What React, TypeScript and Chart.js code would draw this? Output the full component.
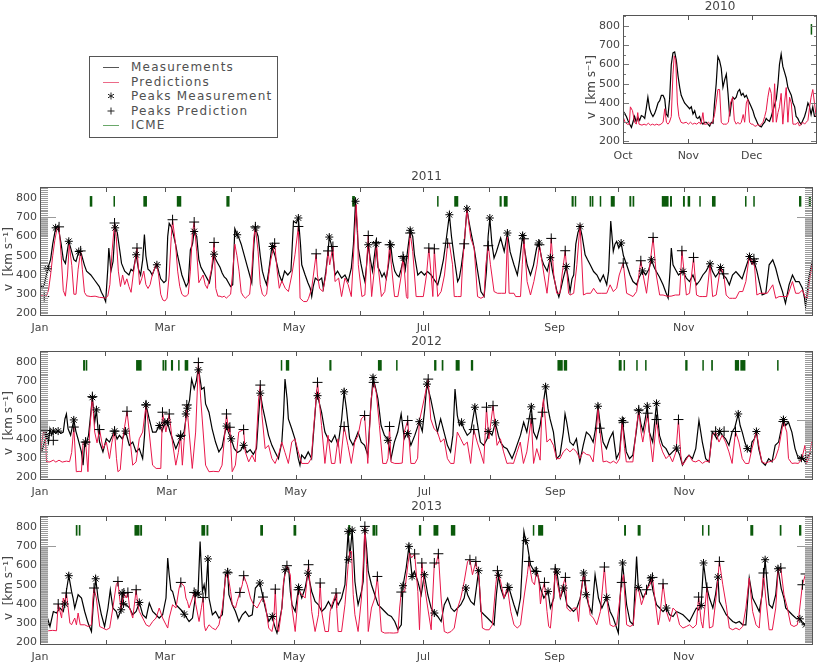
import React, { useEffect, useRef } from 'react';
import { Chart, registerables } from 'chart.js';
Chart.register(...registerables);

const FONT = '"DejaVu Sans", sans-serif';
const TEXT_COLOR = '#454545';
const AXIS_COLOR = '#555555';
const MEAS_COLOR = '#000000';
const PRED_COLOR = '#e8174a';
const ICME_COLOR = '#0b5a0b';
const Y_MIN = 187;
const Y_MAX = 857;
const ICME_LO = 755;
const ICME_HI = 810;
const Y_TICKS = [200, 300, 400, 500, 600, 700, 800];
const Y_TITLE = 'v  [km s\u207B\u00B9]    ';

// ---------- 2010 (Oct-Dec), x = days since Oct 1 ----------
const meas2010 = [[0,360],[0.8,345],[1.6,330],[2.4,308],[3.2,290],[4,273],[4.7,300],[5.5,330],[6.3,300],[7.1,325],[7.9,310],[8.7,335],[9.5,330],[10.3,320],[11.1,377],[11.8,430],[12.6,370],[13.4,345],[14.2,330],[15,345],[15.8,370],[16.6,400],[17.4,412],[18.2,440],[19,440],[19.8,420],[20.5,343],[21.3,330],[22.1,420],[22.9,600],[23.7,660],[24.5,665],[25.3,620],[26.1,540],[26.9,480],[27.6,440],[28.4,420],[29.2,400],[30,390],[31.6,370],[32.4,380],[33.2,343],[34,360],[34.8,325],[35.5,320],[36.3,330],[37.1,300],[37.9,290],[38.7,300],[39.5,300],[40.3,290],[41.1,280],[41.9,300],[42.7,295],[43.4,400],[44.2,500],[45,640],[45.8,620],[46.6,580],[47.4,482],[48.2,520],[49,550],[49.8,450],[50.6,330],[51.4,400],[52.1,430],[52.9,420],[53.7,430],[54.5,460],[55.3,470],[56.1,440],[56.9,450],[57.7,430],[58.5,440],[59.2,420],[60,400],[60.8,380],[61.6,360],[62.4,330],[63.2,310],[64,290],[64.8,280],[65.6,275],[66.4,290],[67.2,300],[67.9,320],[68.7,310],[69.5,305],[70.3,330],[71.1,360],[71.9,390],[72.7,420],[73.5,500],[74.2,600],[75,654],[75.8,590],[76.6,560],[77.4,530],[78.2,480],[79,460],[79.8,440],[80.6,400],[81.4,380],[82.1,330],[82.9,320],[83.7,300],[84.5,290],[85.3,310],[86.1,330],[86.9,360],[87.7,400],[88.5,380],[89.2,340],[90,380],[90.8,330],[91.6,330]];
const pred2010 = [[0,330],[1,300],[2,290],[3,290],[3.5,380],[4.5,360],[5.5,300],[6.3,290],[7,350],[7.6,290],[9,285],[10,290],[11,285],[12,295],[13,285],[14,290],[15,285],[16,290],[17,285],[18,290],[19,300],[19.8,370],[20.6,300],[21.3,290],[22,300],[22.9,330],[23.7,550],[24.3,645],[25,620],[25.8,400],[26.5,330],[27.5,300],[28.5,295],[30,300],[31,290],[32,300],[33,290],[34,295],[35,290],[36,300],[37,290],[37.9,350],[38.5,290],[39.5,290],[40.5,300],[41.5,290],[42.5,300],[43.4,340],[44.2,400],[45,470],[45.8,470],[46.6,300],[47.4,290],[48.2,290],[49,290],[50,300],[51,400],[52,430],[52.8,310],[53.7,290],[54.5,300],[55.3,290],[56.1,300],[57,340],[57.7,300],[58.5,400],[59.2,420],[60,300],[60.8,290],[61.6,290],[62.4,280],[63.2,280],[64,290],[64.8,280],[65.6,290],[66.4,300],[67.2,330],[67.9,360],[68.7,430],[69.5,480],[70.3,450],[71.1,300],[71.9,500],[72.7,300],[73.5,350],[74.2,380],[75,450],[75.8,290],[76.6,400],[77.4,480],[78.2,300],[79,430],[79.8,400],[80.6,290],[81.4,290],[82.1,290],[82.9,300],[83.7,280],[84.5,290],[85.3,300],[86.1,290],[86.9,300],[87.7,310],[88.5,380],[89.2,430],[90,470],[90.8,400],[91.6,330]];
const icme2010 = [[89,89.6]];

// ---------- 2011, x = day of year ----------
const meas2011 = [[0,360],[1,330],[2,350],[3,400],[3.6,432],[5,480],[6,560],[7.4,645],[8.5,655],[10,560],[11,480],[12,460],[13.6,575],[15,520],[16,480],[17,470],[18.3,522],[19.5,510],[21,450],[22,420],[24,400],[26,370],[28,340],[29,310],[30,290],[31,262],[32,430],[32.5,540],[33.5,420],[34.5,470],[35.5,645],[36.5,620],[37.5,540],[38.5,460],[40,420],[42,400],[43,430],[44,420],[45.4,505],[46.5,430],[47.5,400],[48.5,480],[49.3,610],[50,500],[51,430],[52,420],[53,400],[54,430],[55.2,453],[56,420],[57,380],[58.5,360],[59.5,370],[60.3,600],[61,668],[62,650],[63,610],[64,560],[65,500],[66,450],[67,400],[68,370],[69,340],[70,360],[71,530],[72,560],[72.8,626],[74,600],[75,480],[76,440],[77,420],[78,400],[79,380],[80,360],[81,420],[82.2,508],[83,480],[84,460],[85,440],[86,410],[87,390],[88,380],[89,360],[90,340],[91,350],[92,640],[93.1,609],[94,590],[95,560],[96,520],[97,480],[98,440],[99,400],[100,360],[101,560],[101.7,644],[103,600],[104,500],[105,420],[106,380],[107,350],[108,420],[109.5,548],[111,500],[112,450],[113,400],[114.2,366],[115.5,420],[117,400],[118.5,420],[119.7,680],[121,670],[122,696],[123,560],[123.6,453],[125.2,400],[126.5,360],[127.6,331],[128.3,288],[129,340],[130,384],[131.5,370],[133,384],[133.8,331],[135,420],[136,520],[136.6,597],[137.5,560],[138.5,480],[139.3,400],[140.5,420],[142.4,384],[144,400],[145.5,366],[147,435],[148,560],[149,783],[150.3,540],[151.5,460],[152.6,400],[153.4,366],[154.2,450],[155,557],[156,480],[157,420],[158.6,562],[159.6,440],[160.5,420],[161.5,390],[162.5,410],[163.5,380],[164.5,450],[165.6,557],[166.5,470],[167.5,420],[168.5,400],[169.5,390],[170.5,430],[171.7,488],[172.5,430],[173.5,520],[174.8,632],[176,600],[176.8,505],[178.4,400],[180,418],[181.5,400],[183,418],[184.7,400],[186.2,375],[187.8,349],[189,400],[190.5,480],[192,600],[193.3,713],[194.3,600],[195.6,488],[197.2,366],[198,384],[199,450],[200.3,560],[201.6,743],[202.5,680],[203.4,626],[205,540],[206.5,430],[208.2,314],[209.7,288],[210.8,420],[211.6,600],[212.4,696],[213.4,560],[214.4,488],[215.5,520],[217.5,592],[219.2,522],[220.7,618],[222,520],[223.8,453],[225.4,400],[226.5,480],[227.9,605],[229,520],[230,453],[231.6,400],[233,450],[234.5,540],[235.5,566],[237,480],[238,450],[239.5,420],[241,490],[242,420],[243,370],[244,320],[245,285],[246,330],[247,380],[248.5,444],[249.5,380],[250.3,314],[251.2,380],[252,400],[253,560],[254,620],[255,652],[256,600],[257.4,505],[258.5,480],[259.8,453],[261.4,418],[263,400],[264.5,366],[266,400],[267.6,349],[268.5,420],[269.5,680],[270.7,522],[271.5,560],[272.3,574],[273.3,540],[274.4,566],[275.5,500],[277,453],[278.6,400],[280,366],[281.7,349],[283,390],[284.5,421],[286,400],[287.5,430],[288.7,479],[290,440],[291,418],[292.5,390],[294.2,349],[295.5,310],[296.6,280],[297.5,420],[298.1,540],[298.9,453],[300,430],[301.5,400],[302.5,410],[303.6,418],[305.2,384],[306.7,366],[308.3,400],[310,349],[311.5,370],[313,400],[314.5,420],[316.4,458],[317.5,420],[319,390],[320.3,410],[321.3,439],[322.5,400],[324,384],[325.5,349],[327,400],[328.6,418],[330,400],[331.5,380],[333,430],[335,496],[336,460],[337.2,470],[338.5,420],[339.6,366],[341,297],[342.7,305],[343.5,380],[344.3,453],[346,479],[347.4,435],[349,366],[350.6,314],[352,253],[353.7,349],[355.3,400],[356.8,366],[358.4,366],[360,331],[361,280],[361.5,236],[362.2,300],[363,384],[364.6,470],[365,460]];
const pred2011 = [[0,290],[1,292],[2,288],[3,292],[4,320],[5,400],[6,500],[7,580],[8,640],[9,650],[10,500],[11,320],[12,290],[13,400],[13.8,560],[15,450],[16,300],[17,300],[18,430],[19.2,525],[20,430],[21,310],[22,292],[24,288],[26,290],[28,284],[30,282],[31,280],[32,290],[33,350],[34,520],[35.2,670],[36,600],[37,420],[38,340],[39,400],[40,350],[41,380],[42,340],[43,310],[44,400],[45.8,540],[46.5,430],[47,350],[48,380],[49,420],[50,350],[51,330],[52,350],[53,400],[54,430],[55,460],[56,400],[57,300],[58,270],[59,265],[60,280],[61,400],[62,600],[62.6,687],[64,560],[65,420],[66,340],[67,300],[68,290],[69,290],[70,300],[71,420],[72,620],[72.8,675],[74,520],[75,360],[76,380],[77,400],[78,350],[79,330],[80,380],[81,430],[82.2,569],[83,330],[84,290],[85,290],[86,285],[87,290],[88,280],[89,290],[90,300],[91,420],[92,560],[93,500],[94,420],[95,310],[96,290],[97,280],[98,290],[99,300],[100,420],[101,600],[101.7,650],[103,520],[104,350],[105,300],[106,290],[107,300],[108,400],[109,480],[110.8,565],[112,420],[113,331],[114.2,370],[115.8,331],[117.3,314],[118.9,400],[120.4,505],[122,652],[122.8,279],[124.5,262],[126,262],[126.8,279],[128.3,331],[130.4,510],[131,400],[132,331],[133.5,314],[135,400],[136,525],[136.8,453],[138.3,548],[139.3,366],[141,384],[142.4,288],[144,384],[145.5,350],[147,288],[147.8,453],[149.3,765],[150,626],[150.3,453],[152,288],[153.4,296],[155,605],[155.8,453],[156.6,288],[158.1,453],[158.9,569],[159.6,453],[161.2,288],[162.8,314],[164.3,453],[165.1,557],[165.9,453],[167.4,288],[169,288],[170.6,400],[171.4,496],[172.2,400],[173,288],[173.4,279],[173.7,453],[174.8,618],[176,522],[177.6,288],[179,288],[181,288],[182.5,400],[183.6,540],[184.7,400],[185.5,288],[186.2,536],[187.8,288],[189.4,314],[191,400],[192.5,565],[193.3,565],[194.8,453],[195.6,288],[197.2,288],[198.8,288],[199.5,453],[200.3,562],[201.6,743],[203.4,592],[205,540],[206.6,288],[208.2,279],[209.7,288],[210.5,453],[211.7,552],[212.7,453],[214.4,314],[216,305],[218,305],[219.8,305],[220.7,600],[221.5,305],[223.8,305],[224.6,288],[226.9,288],[227.7,453],[228.5,588],[230,366],[231.6,296],[233.2,366],[234.7,453],[235.8,557],[238,400],[239.4,305],[240.5,420],[241.4,590],[242.6,400],[244,305],[245.5,305],[246.5,400],[248,526],[249.6,305],[250.3,296],[252,305],[253.5,453],[255,661],[256.6,296],[258.2,305],[260,305],[261.4,331],[263,305],[265,305],[267.6,305],[269.2,349],[270.7,314],[272.3,331],[273.5,400],[275.4,462],[277,305],[278.6,296],[280,288],[281.7,314],[283.7,474],[284.8,400],[286.4,305],[288,453],[289.5,595],[291,400],[292.6,296],[294.2,296],[296,290],[298,290],[300,296],[302,296],[303.1,526],[304.3,400],[305.2,296],[306.7,305],[308.6,491],[310,296],[311.5,288],[313,288],[314.8,288],[316.4,458],[317.6,288],[319.3,296],[321.3,439],[322.8,406],[324,296],[325.5,279],[327,279],[328.6,279],[330.2,314],[331.8,314],[333.3,366],[335,505],[336.5,453],[337.1,484],[338.5,296],[340,305],[341.8,305],[343.4,305],[346,349],[347.4,279],[349,288],[351.3,288],[352.9,288],[355.3,366],[356.8,305],[358.4,305],[360,322],[361.5,279],[362.3,279],[363.5,380],[364.6,453],[365,460]];
const starsM2011 = [[3.6,432],[7.4,645],[13.6,575],[18.3,522],[35.5,645],[45.4,505],[55.2,453],[72.8,626],[82.2,508],[93.1,609],[101.7,644],[109.8,548],[122,696],[136.6,597],[149,783],[155,557],[158.6,562],[165.6,557],[171.7,488],[174.8,632],[193.3,713],[201.6,743],[212.4,696],[220.7,618],[227.9,605],[235.5,566],[241,490],[248.5,444],[255,652],[274.4,566],[284.5,421],[288.7,479],[303.6,418],[316.4,458],[321.3,439],[335,496],[337.2,470]];
const plusP2011 = [[2,288],[9,650],[19.2,525],[35.2,670],[45.8,540],[62.6,687],[72.8,675],[82.2,569],[101.7,650],[110.8,565],[122,652],[130.4,510],[136,525],[138.3,548],[155,605],[158.9,569],[165.1,557],[171.4,496],[174.8,618],[183.6,540],[186.2,536],[192.5,565],[200.3,562],[211.7,552],[228.5,588],[235.8,557],[241.4,590],[248,526],[275.4,462],[283.7,474],[289.5,595],[303.1,526],[308.6,491],[322.8,406],[337.1,484]];
const icme2011 = [[23.5,24.7],[34.7,35.4],[48.8,50.5],[64.6,66.7],[88,89.5],[147.4,148.7],[187.5,188.2],[195.6,197.5],[217,218],[219,220.8],[251,252],[252.5,253.2],[259.5,260.3],[260.6,261.3],[264.3,264.7],[269.5,271.4],[278.3,279.2],[279.8,280.6],[293.6,296.8],[297.5,298.4],[303.6,304.5],[305.8,307],[311.3,311.7],[317.3,319],[332.9,333.3],[336.8,337.4],[358.4,359.5],[363,364]];

// ---------- 2012 ----------
const meas2012 = [[0,358],[1,340],[2,380],[3.1,419],[4,380],[4.7,453],[5.5,420],[6.3,441],[7.5,430],[8.6,441],[10,430],[11,436],[11.8,504],[12.5,530],[13.3,453],[14.5,420],[16,499],[17,440],[18,401],[19.6,333],[20.4,264],[21.2,384],[22,380],[23,420],[24.8,616],[25.9,487],[26.7,551],[27.5,450],[28.2,384],[29.8,333],[31.4,401],[32.9,384],[34,410],[35.3,441],[36.5,400],[37.6,419],[39,400],[40.5,441],[41.5,400],[42.3,367],[43.9,384],[45.5,333],[47,350],[48.6,298],[49.5,420],[50.2,577],[51.7,504],[53.3,436],[54.9,436],[56.5,470],[57.8,440],[59.1,487],[60.4,487],[61.5,440],[62.7,401],[64.3,350],[65.5,380],[66.6,413],[68.2,436],[69.8,560],[70.8,600],[71.8,711],[73,660],[74,700],[75,770],[76.5,659],[77.7,668],[78.4,582],[80,539],[81.5,453],[83.1,384],[84.7,333],[86.2,358],[87.3,420],[88.3,467],[89.4,430],[90.5,401],[92,350],[93.5,330],[95,340],[96.4,367],[98,330],[99.5,345],[101,320],[102.5,350],[103.5,520],[104.3,638],[105.5,560],[106.6,504],[108.2,419],[109.8,367],[111.3,333],[112.9,298],[114.5,384],[115.3,522],[116,711],[117,608],[117.6,504],[119.2,453],[120.7,401],[122.3,298],[123.1,264],[123.9,316],[125.4,298],[127,333],[128.6,298],[130,500],[131,642],[131.4,625],[133.3,539],[134.9,436],[136.4,401],[138,384],[139.6,419],[141.1,367],[142.8,500],[144,645],[145.1,556],[146.6,401],[148.2,367],[150.6,436],[152.1,384],[153.7,367],[155.2,316],[156.5,550],[157.7,719],[159,660],[160,608],[161.5,470],[163.1,419],[164.7,401],[166.2,298],[167.8,384],[169.4,436],[171,530],[172.5,401],[174.1,436],[175.6,367],[177.5,420],[179.6,490],[181,440],[182.2,560],[183.2,685],[185,608],[186.6,522],[188.2,436],[189.7,504],[191.3,436],[192.9,367],[194.4,333],[195.5,420],[196.5,659],[197.6,522],[198.6,470],[199.6,487],[200.7,453],[202.3,419],[203.9,436],[205.9,565],[207,487],[208.5,384],[210.1,367],[211.7,401],[212.5,439],[214,420],[215.6,484],[217,420],[218,384],[219.5,360],[221.1,350],[222.5,320],[223.5,298],[225,340],[225.8,367],[227.5,420],[229,487],[230.5,436],[231.5,500],[232.6,567],[233.7,436],[235.2,401],[236.8,470],[238,560],[239.4,671],[240.5,560],[241.5,504],[243.1,436],[244.6,298],[246.2,316],[247.8,436],[248.6,530],[249.4,487],[250.9,384],[252.5,367],[254,401],[255.6,281],[257.2,367],[258.7,436],[260.3,419],[261.9,384],[263,450],[264.2,570],[265.2,480],[266.6,384],[268.2,350],[269.7,401],[271.3,436],[272.9,298],[274.4,333],[275.7,496],[276.6,420],[277.6,333],[279.1,298],[280.7,316],[282.3,436],[283.5,547],[284.5,480],[285.5,440],[286.5,500],[287.5,570],[288.5,436],[290.1,384],[291.9,585],[293.3,419],[294.8,367],[296.4,350],[298,316],[299.5,333],[301.4,353],[302.8,320],[304.2,264],[305.8,298],[307.3,316],[308.9,298],[310.5,350],[312,496],[313.6,384],[315.2,298],[316.8,281],[318.3,436],[319.5,420],[320.5,400],[321.8,439],[323,420],[324.6,401],[326.2,367],[327.7,436],[329,460],[330.6,530],[331.5,470],[332.5,436],[333.8,380],[334.9,350],[336.4,333],[337.1,384],[338.2,400],[339.2,439],[340.3,350],[341.8,281],[343.4,264],[345,298],[346.6,281],[348.1,367],[349.7,384],[351.3,470],[352,501],[353,470],[354.4,487],[356,436],[357.5,350],[359.1,298],[360.7,307],[362.2,281],[363.8,316],[365.4,333],[366,340]];
const pred2012 = [[0,315],[1.6,436],[2.4,444],[3.1,281],[4.7,281],[6.3,290],[7.5,280],[9,290],[10.5,280],[12.5,285],[14,282],[15,330],[16,462],[17.2,230],[18.5,232],[19.6,230],[20.4,384],[21.6,384],[22.7,230],[23.5,436],[24.8,620],[25.9,436],[27,380],[28.2,449],[29.8,350],[31.4,384],[32.9,298],[34,380],[35.3,441],[36.2,300],[36.9,230],[38,240],[39.2,401],[41.2,544],[42.3,436],[43.9,264],[45.5,281],[47,401],[48.6,436],[50.2,577],[51.7,436],[53.3,264],[55,247],[57.2,247],[58,539],[59.6,436],[61.2,530],[62.7,384],[64.3,264],[65.5,330],[66.6,419],[67.4,264],[69.5,577],[70.6,436],[72.1,247],[73.7,436],[75,797],[76.1,608],[76.8,504],[78.4,264],[80,230],[82,232],[84.7,230],[86.2,264],[88.3,530],[89.4,436],[89.9,461],[91,230],[92.5,264],[94.1,436],[96.4,449],[97.2,333],[98.8,281],[100.4,316],[101.9,281],[103.5,608],[104.3,680],[105.1,522],[106.6,350],[108.2,367],[109.8,298],[111.3,273],[112.9,316],[114.5,384],[116,330],[117.6,273],[119.2,384],[120.7,401],[122.3,333],[123.9,273],[125.5,273],[127,273],[128.5,300],[129.4,436],[131.4,694],[133.3,470],[134.9,273],[136.4,419],[138,273],[139.6,273],[141.1,401],[142.2,273],[144,465],[145.8,367],[147.4,273],[149,384],[150.6,419],[152.1,504],[153.7,522],[155.2,273],[156.8,608],[158,694],[159.2,642],[160.7,470],[162.3,273],[164,273],[164.8,300],[165.5,465],[166.2,280],[168,273],[170,273],[171.5,275],[172.5,436],[174.1,496],[175.6,273],[177.5,273],[178.8,300],[179.6,491],[181.9,608],[183.8,711],[185,504],[186.6,453],[188.2,436],[189.7,384],[191.3,401],[192.9,298],[194.4,273],[196,273],[197.6,436],[199.2,401],[200.7,367],[202.3,384],[203.9,273],[205.4,449],[207,384],[208.5,333],[210.1,273],[211.4,565],[212.5,401],[214.5,573],[216.4,367],[218,401],[219.5,333],[221.1,273],[222.5,275],[224.2,273],[225.8,330],[227.4,384],[228.9,273],[230.5,333],[232.6,505],[233.7,273],[235.2,350],[236.8,290],[237.6,539],[238.4,608],[239.2,504],[240,384],[241.5,401],[243.1,367],[244.6,298],[246.2,298],[247.8,333],[249.4,350],[250.9,333],[252.5,350],[254,333],[255.6,298],[257.2,333],[258.7,320],[260.3,316],[261.9,281],[263.4,436],[264.2,556],[265,456],[266.6,281],[268.2,285],[270,275],[271.5,285],[273,273],[274.4,298],[275.7,487],[276.8,350],[277.6,281],[279.1,281],[280.7,281],[282.3,453],[283.5,551],[284.6,436],[285.4,384],[287.7,534],[288.5,436],[290.1,281],[291.9,501],[293.3,384],[294.8,333],[296.4,298],[298,316],[299.5,281],[301.1,333],[302.3,501],[303.4,316],[304.2,264],[305.8,290],[307.3,316],[309,285],[310.5,281],[312,290],[313.6,273],[315.2,285],[316.8,281],[318.3,419],[319.9,436],[321.5,384],[323,419],[324.6,384],[326.2,333],[327.7,273],[329.3,439],[330.9,384],[332.5,298],[334,273],[335.6,273],[337.1,350],[339.2,439],[340.3,367],[341.8,281],[343.4,273],[345,281],[346.6,285],[348.1,298],[349.7,350],[352,491],[353.6,436],[354.4,298],[356,273],[357.5,275],[359.1,273],[360.7,298],[362.2,367],[363,273],[364,300],[365.4,384],[366,380]];
const starsM2012 = [[3.1,419],[6.3,441],[8.6,441],[16,499],[21.6,384],[24.8,616],[26.7,551],[35.3,441],[40.5,441],[50.2,577],[56.5,470],[59.1,487],[60.4,487],[66.6,413],[69,530],[69.8,560],[75,759],[88.3,467],[90.5,401],[96.4,367],[104.3,638],[131.4,625],[144,645],[157.7,719],[164.7,393],[174.1,428],[179.6,490],[183.2,685],[199.6,487],[205.9,565],[212.2,439],[215.6,484],[232.6,567],[239.4,671],[264.2,570],[275.7,496],[283.5,547],[287.5,570],[291.9,585],[301.4,353],[321.8,439],[330.6,530],[334.9,350],[339.2,439],[352,501],[360.5,300]];
const plusP2012 = [[2.4,444],[6.3,393],[16,462],[21.6,384],[24.8,620],[28.2,449],[35.3,441],[41.2,544],[50.2,577],[58,539],[61.2,530],[66.6,419],[69.5,577],[75,797],[88.3,530],[89.9,461],[96.4,449],[104.3,680],[131.4,694],[144,465],[153.7,522],[158,694],[165.5,465],[174.1,496],[183.8,711],[205.4,449],[211.4,565],[214.5,573],[232.6,505],[238,539],[265,456],[276.3,487],[283.5,551],[287.7,534],[291.9,501],[302.3,501],[319.9,440],[323.9,440],[329.3,439],[352,491],[362.5,298]];
const icme2012 = [[20.4,21.3],[21.6,22.4],[45.5,48.1],[58,58.5],[59,59.9],[62,63],[65.4,65.9],[68.5,70.2],[114,114.5],[116.4,118],[137,138],[160,161.8],[168.6,169],[186.6,187.7],[190.2,191],[196.8,198.7],[204,205.1],[245,247.5],[248,249.6],[274,275.4],[276.3,277],[282.3,283],[286.5,287],[305.5,306.6],[313.6,314],[317.8,318.6],[329,331],[331.6,334],[349,349.4]];

// ---------- 2013 ----------
const meas2013 = [[0,327],[0.8,292],[1.6,301],[3.1,344],[4.7,283],[6.3,361],[7.8,353],[9.4,379],[11,361],[11.7,400],[12.5,470],[13.6,547],[14.9,465],[15.6,431],[16.4,379],[18,448],[19.6,431],[21.1,361],[22.7,301],[24.3,257],[25.3,420],[26.3,531],[27.4,431],[29,344],[30.5,283],[32.1,379],[33.2,474],[34.4,379],[36,361],[36.8,327],[38.3,370],[38.8,457],[39.4,401],[40.7,396],[42.3,379],[43.8,344],[45.4,361],[46.9,408],[48.5,344],[50.1,327],[51.6,405],[53.2,361],[54.8,344],[56.3,327],[57.9,344],[59.5,431],[60.3,639],[61,552],[61.8,474],[62.6,465],[64.2,396],[65.7,379],[67.3,361],[68.1,347],[70.4,309],[72,327],[73.6,457],[74.6,451],[75.6,725],[76.7,465],[77.5,500],[78.2,448],[79.3,634],[79.8,431],[81.4,344],[82.9,361],[84.5,327],[86.1,344],[87.6,552],[88.6,566],[89.2,448],[90.8,396],[92.3,361],[93.9,309],[95.5,344],[97,361],[98.6,335],[100.2,344],[101.7,483],[103.8,509],[105,450],[106.4,379],[108,309],[109.5,335],[111.1,275],[111.9,249],[112.7,292],[114.2,379],[115,500],[115.8,578],[117.4,587],[118.2,465],[119,396],[120.5,361],[122.1,486],[123.6,431],[125.2,483],[126.5,560],[128.3,465],[129.9,413],[131.5,396],[133,361],[134.6,379],[136.2,413],[137.8,379],[139.3,431],[140.8,396],[142.4,431],[144,500],[145.5,777],[146.3,640],[147.4,783],[147.9,691],[148.7,517],[149.5,448],[150.2,396],[151.8,465],[152.6,517],[153.4,781],[154.2,691],[155,569],[156.5,500],[158.1,448],[159.6,396],[161.2,379],[162.8,361],[164.3,344],[165.9,335],[167.5,309],[169,266],[170.6,292],[171.4,495],[172.9,587],[174.2,699],[175.7,543],[176.8,569],[178.4,517],[180,448],[181.5,552],[183.1,448],[184.7,379],[186.2,353],[187.8,335],[189.4,309],[190.9,396],[192.5,431],[194.1,379],[195.6,361],[197.2,379],[198.7,396],[200.3,431],[201.1,483],[201.9,448],[203.4,413],[205,396],[206,480],[207.1,573],[208.2,361],[209.7,344],[211.3,327],[212.9,309],[214.4,292],[215.5,450],[216.5,549],[217.5,483],[219.1,431],[220.3,460],[221.4,486],[222.6,440],[223.8,396],[225.4,344],[226.9,431],[228.5,777],[229.3,729],[230.1,708],[231.6,604],[233.2,573],[234.7,569],[236.3,483],[237.9,431],[239.9,465],[241,379],[242.6,431],[243.3,587],[244.1,566],[245.7,431],[247.3,483],[248.8,396],[250.4,379],[251.9,361],[253.5,379],[255.1,431],[256.7,561],[257.9,448],[259,396],[260.6,353],[262.1,552],[263.7,431],[265.3,379],[266,396],[267.6,434],[269.2,361],[270.7,327],[272.3,275],[273.1,249],[273.9,431],[275.1,613],[277,396],[278.6,309],[280.1,292],[281.7,647],[282.5,486],[283.5,470],[284.8,431],[286.5,470],[288.4,535],[289.5,465],[291.1,396],[292.6,379],[294.2,360],[295.8,379],[297.3,344],[298.9,335],[300.5,361],[302,353],[303.6,344],[305.2,327],[306.7,309],[308.3,344],[309.9,379],[311,370],[312.2,392],[313.3,613],[314.6,500],[316.1,431],[317.7,379],[319,450],[320.1,540],[320.8,413],[322.4,379],[324,344],[325.5,327],[327.1,309],[328.6,301],[330.2,309],[331.8,292],[333.3,292],[334.9,535],[336.5,431],[338.1,396],[339.6,361],[341,450],[342.4,630],[343.5,483],[344.3,396],[345.8,379],[347.4,448],[348.5,583],[350,480],[351.3,431],[352.1,379],[353.7,361],[355.2,344],[356.8,327],[358.8,323],[359.9,301],[361.5,292],[362.3,379],[363,370],[364.6,361],[365,355]];
const pred2013 = [[0,353],[0.8,261],[2,265],[4,261],[6,263],[7.8,261],[8.6,400],[10.2,327],[11,431],[11.7,400],[12.5,457],[13.3,379],[14.1,301],[14.9,292],[16.4,327],[17.2,292],[18,353],[19,292],[20.3,292],[21.1,292],[22.7,283],[24.3,292],[25,431],[25.5,483],[26.6,431],[28.2,283],[29.7,275],[31.3,266],[32.9,275],[34.4,379],[36,500],[36.8,517],[37.6,431],[38.3,370],[39.6,457],[40.7,431],[41.5,460],[42.3,379],[43.8,327],[45.4,474],[46.2,396],[46.9,361],[48.5,327],[50.1,292],[51.6,283],[53.2,309],[54.8,327],[56.3,379],[57.9,327],[59.5,292],[60.3,275],[61,327],[62.6,396],[64.2,379],[65.7,483],[66.5,512],[68.1,491],[68.9,431],[69.6,413],[70.4,379],[72,431],[72.8,460],[73.6,396],[75.1,309],[76.2,380],[77,434],[77.6,290],[78.2,261],[79.8,292],[81.4,275],[82.9,266],[84.5,292],[86.1,379],[87.6,535],[88.6,562],[90,465],[90.8,396],[92.3,379],[93.1,413],[94.4,460],[95.5,500],[96.2,547],[97.8,500],[99.4,431],[100.9,396],[102.5,379],[104.1,413],[105.3,436],[106.4,396],[108,275],[109.5,257],[110.3,300],[111.1,477],[111.9,275],[112.7,257],[114.2,379],[115,517],[116.6,599],[118.2,552],[119,379],[120.5,257],[122.1,474],[123.6,448],[125.2,431],[126.8,604],[127.5,500],[128.3,361],[129.9,257],[131.5,344],[132.3,509],[133,361],[134.6,257],[136.2,257],[137,361],[137.8,396],[139.8,457],[140.1,379],[140.8,257],[142.4,257],[144,396],[145.5,604],[146.3,673],[147.1,673],[147.9,448],[148.7,344],[150.2,257],[151.8,431],[152.6,604],[153.4,803],[154.2,604],[155,257],[156.5,379],[158.1,431],[159.3,543],[160.4,379],[161.2,257],[162.8,249],[165,250],[167,249],[169,251],[169.8,379],[170.6,462],[172.2,465],[173.7,604],[174.5,665],[175.5,640],[176.9,660],[178.4,465],[179.2,266],[180.3,613],[181.5,500],[183.1,379],[184.7,266],[186.2,613],[187,604],[188.1,661],[189.4,431],[190.9,257],[192.5,249],[194.1,257],[195.6,275],[197.2,379],[198.7,431],[200.3,517],[201.9,621],[203,630],[204.2,552],[205.8,621],[207.4,517],[208.9,275],[210.5,266],[212.1,266],[213.6,292],[215.2,500],[216,573],[217.5,517],[219.1,431],[220.7,486],[222.3,361],[223.8,292],[225.4,275],[226.9,292],[228.5,431],[230.1,552],[230.8,621],[232.4,517],[233.5,500],[234.4,569],[235.5,535],[236.3,400],[237.2,470],[238.2,512],[239.4,361],[240.2,283],[241,275],[242.6,465],[243.3,582],[244.1,517],[245.7,431],[247,500],[248.1,538],[248.8,379],[250.4,361],[251.9,379],[253.5,379],[254.3,309],[255.1,431],[256.7,552],[257.4,521],[258.2,465],[259.8,344],[261.3,327],[262.9,292],[264.6,361],[266.5,592],[267.6,431],[269.2,292],[270.7,283],[272.3,292],[273.5,400],[274.7,512],[275.5,552],[277,292],[278.6,283],[280.1,292],[281.7,483],[282.5,486],[284,396],[286.4,474],[288,500],[289.2,538],[290.3,431],[291.9,292],[292.6,327],[294.2,505],[295.8,361],[297.3,309],[298.9,379],[300.5,361],[302,292],[303.6,275],[305.2,283],[306.7,292],[308.3,275],[309.9,292],[311,436],[312.2,309],[313,275],[314.9,486],[316.1,275],[317.7,283],[319.2,431],[320.8,621],[322.4,500],[324,396],[325.5,275],[327.1,266],[328.6,275],[330.2,266],[331.8,283],[333.3,379],[334.9,535],[336.5,361],[338.1,292],[339.6,275],[341.6,561],[342.7,431],[344.3,266],[345.8,266],[347.4,379],[348.5,569],[349.8,587],[351.3,448],[352.9,379],[354.5,292],[356,283],[357.6,292],[358.4,344],[360,500],[361.5,556],[363,431],[363.8,275],[365,275]];
const starsM2013 = [[1.6,301],[11.7,400],[13.6,547],[26.3,531],[38.3,370],[38.8,457],[39.4,401],[46.9,408],[68.1,347],[73.6,457],[74.6,451],[79.3,634],[88.6,566],[103.8,509],[109.7,335],[115.8,578],[122.1,486],[126.5,560],[145.5,630],[145.5,777],[147.4,783],[153.4,781],[171.4,495],[174.2,699],[175.7,543],[181.5,552],[186.2,353],[201.1,483],[207.1,573],[216.5,549],[221.4,486],[229.3,729],[233.8,571],[239.9,465],[244.1,566],[247.3,483],[256.7,561],[257.9,448],[267.6,434],[275.1,613],[282.5,486],[288.4,535],[295.8,379],[312.2,392],[313.3,613],[320.1,540],[342.4,630],[348.5,583],[358.8,323],[361.5,292],[363,370]];
const plusP2013 = [[2,292],[8.6,400],[12.5,457],[25.5,483],[36.8,517],[39.6,457],[41.5,460],[45.4,474],[66.5,512],[72.8,460],[77,434],[88.6,562],[94.4,460],[96.2,547],[105.3,436],[111.1,477],[116.6,599],[122.1,474],[126.8,604],[132.3,509],[139.8,457],[153.4,803],[159.3,543],[170.6,462],[176.9,660],[180.3,613],[186.2,613],[188.1,661],[203,630],[205.8,621],[216,573],[220.7,486],[230.8,621],[234.4,569],[238.2,512],[243.3,582],[248.1,538],[257.4,521],[266.5,592],[274.7,512],[286.4,474],[289.2,538],[294.2,505],[311,436],[314.9,486],[320.8,621],[341.6,561],[349.8,587],[360,500],[361.5,556]];
const icme2013 = [[16.9,17.7],[18.3,19.1],[44.6,47],[47.3,48.2],[76.2,78],[78.6,79.5],[104,105.3],[119.7,121],[145.5,146.5],[157,158.2],[158.4,159.3],[178.9,180],[185.8,188.1],[194,196.1],[232.7,233.2],[235.2,237.6],[275.8,276.7],[282.2,283.6],[312.6,313],[315.4,315.8],[335.4,336.8],[349.3,350.1],[358.4,359.5]];

// ---------- month axes ----------
const months2010 = [0, 31, 61, 92];
const labelDays2010 = [0, 31, 61];
const labelNames2010 = ['Oct', 'Nov', 'Dec'];
const months2011 = [0, 31, 59, 90, 120, 151, 181, 212, 243, 273, 304, 334, 365];
const months2012 = [0, 31, 60, 91, 121, 152, 182, 213, 244, 274, 305, 335, 366];
const labelDays2011 = [0, 59, 120, 181, 243, 304];
const labelDays2012 = [0, 60, 121, 182, 244, 305];
const labelNamesYear = ['Jan', 'Mar', 'May', 'Jul', 'Sep', 'Nov'];

type Pt = number[];
type PanelSpec = {
  title: string;
  meas: Pt[]; pred: Pt[]; starsM: Pt[]; plusP: Pt[]; icme: Pt[];
  xMax: number; months: number[]; labelDays: number[]; labelNames: string[];
  left: number; top: number; width: number; height: number; padTop: number; titleGap: number;
  dense: boolean; solidL: Pt[]; solidR: Pt[];
};

const PANELS: PanelSpec[] = [
  { title: '2010', meas: meas2010, pred: pred2010, starsM: [], plusP: [], icme: icme2010,
    xMax: 92, months: months2010, labelDays: labelDays2010, labelNames: labelNames2010,
    left: 583, top: 0, width: 235, height: 168, padTop: 15, titleGap: 8, dense: false, solidL: [], solidR: [] },
  { title: '2011', meas: meas2011, pred: pred2011, starsM: starsM2011, plusP: plusP2011, icme: icme2011,
    xMax: 365, months: months2011, labelDays: labelDays2011, labelNames: labelNamesYear,
    left: 0, top: 165, width: 819, height: 175, padTop: 22, titleGap: 10, dense: true, solidL: [[600, 700]], solidR: [[600, 700]] },
  { title: '2012', meas: meas2012, pred: pred2012, starsM: starsM2012, plusP: plusP2012, icme: icme2012,
    xMax: 366, months: months2012, labelDays: labelDays2012, labelNames: labelNamesYear,
    left: 0, top: 329, width: 819, height: 175, padTop: 22, titleGap: 9, dense: true, solidL: [[445, 500]], solidR: [[385, 500]] },
  { title: '2013', meas: meas2013, pred: pred2013, starsM: starsM2013, plusP: plusP2013, icme: icme2013,
    xMax: 365, months: months2011, labelDays: labelDays2011, labelNames: labelNamesYear,
    left: 0, top: 494, width: 819, height: 175, padTop: 22, titleGap: 9, dense: true, solidL: [[200, 700]], solidR: [[200, 700]] },
];

function makeDeco(p: PanelSpec) {
  return {
    id: 'deco',
    beforeDatasetsDraw(chart: any) {
      const { ctx, chartArea: a, scales } = chart;
      const x = scales.x, y = scales.y;
      ctx.save();
      ctx.beginPath();
      ctx.rect(a.left, a.top, a.right - a.left, a.bottom - a.top);
      ctx.clip();
      ctx.fillStyle = ICME_COLOR;
      const yt = y.getPixelForValue(ICME_HI);
      const yb = y.getPixelForValue(ICME_LO);
      for (const [s, e] of p.icme) {
        const x0 = x.getPixelForValue(s);
        const x1 = x.getPixelForValue(e);
        ctx.fillRect(x0, yt, Math.max(1.5, x1 - x0), yb - yt);
      }
      ctx.restore();
    },
    afterDraw(chart: any) {
      const { ctx, chartArea: a, scales } = chart;
      const x = scales.x, y = scales.y;
      ctx.save();
      if (p.dense) {
        const drawSolid = (ranges: Pt[], side: 'L' | 'R') => {
          for (const [lo, hi] of ranges) {
            const yh = y.getPixelForValue(hi), yl = y.getPixelForValue(lo);
            ctx.fillStyle = '#bdbdbd';
            const x0 = side === 'L' ? a.left : a.right - 8;
            ctx.fillRect(x0, yh, 8, yl - yh);
            ctx.strokeStyle = '#9a9a9a';
            ctx.lineWidth = 1;
            ctx.beginPath();
            const r = Math.round(yh) + 0.5;
            if (side === 'L') { ctx.moveTo(a.left, r); ctx.lineTo(a.left + 16, r); }
            else { ctx.moveTo(a.right - 16, r); ctx.lineTo(a.right, r); }
            ctx.stroke();
          }
        };
        drawSolid(p.solidL, 'L');
        drawSolid(p.solidR, 'R');
        ctx.strokeStyle = '#9a9a9a';
        ctx.lineWidth = 1;
        ctx.beginPath();
        for (let v = Math.ceil(Y_MIN / 10) * 10; v <= Y_MAX; v += 10) {
          const r = Math.round(y.getPixelForValue(v)) + 0.5;
          ctx.moveTo(a.left, r); ctx.lineTo(a.left + 8, r);
          ctx.moveTo(a.right - 8, r); ctx.lineTo(a.right, r);
        }
        ctx.stroke();
      } else {
        ctx.strokeStyle = '#777';
        ctx.lineWidth = 1;
        ctx.beginPath();
        for (let v = 200; v <= 850; v += 50) {
          const r = Math.round(y.getPixelForValue(v)) + 0.5;
          const len = v % 100 === 0 ? 6 : 3;
          ctx.moveTo(a.left, r); ctx.lineTo(a.left + len, r);
          ctx.moveTo(a.right - len, r); ctx.lineTo(a.right, r);
        }
        ctx.stroke();
      }
      ctx.strokeStyle = AXIS_COLOR;
      ctx.lineWidth = 1;
      ctx.beginPath();
      for (const m of p.months) {
        if (m <= 0 || m >= p.xMax) continue;
        const c = Math.round(x.getPixelForValue(m)) + 0.5;
        ctx.moveTo(c, a.bottom); ctx.lineTo(c, a.bottom - 5);
        ctx.moveTo(c, a.top); ctx.lineTo(c, a.top + 5);
      }
      ctx.stroke();
      ctx.strokeStyle = AXIS_COLOR;
      ctx.strokeRect(Math.round(a.left) + 0.5, Math.round(a.top) + 0.5,
        Math.round(a.right - a.left) - 1, Math.round(a.bottom - a.top) - 1);
      ctx.fillStyle = TEXT_COLOR;
      ctx.font = `12px ${FONT}`;
      ctx.textAlign = 'center';
      ctx.textBaseline = 'middle';
      ctx.fillText(p.title, (a.left + a.right) / 2, a.top - p.titleGap);
      ctx.restore();
    },
  };
}

const toXY = (arr: Pt[]) => arr.map(([x, y]) => ({ x, y }));

function PanelChart({ p }: { p: PanelSpec }) {
  const ref = useRef<HTMLCanvasElement | null>(null);
  useEffect(() => {
    if (!ref.current) return;
    const labelMap: Record<number, string> = {};
    p.labelDays.forEach((d, i) => { labelMap[d] = p.labelNames[i]; });
    const chart = new Chart(ref.current, {
      type: 'scatter',
      data: {
        datasets: [
          { label: 'Peaks Measurement', data: toXY(p.starsM), pointStyle: 'star', pointRadius: 4,
            borderColor: '#000', backgroundColor: '#000', borderWidth: 1, order: 0 } as any,
          { label: 'Peaks Prediction', data: toXY(p.plusP), pointStyle: 'cross', pointRadius: 5,
            borderColor: '#000', backgroundColor: '#000', borderWidth: 1, order: 0 } as any,
          { label: 'Predictions', data: toXY(p.pred), showLine: true, pointRadius: 0,
            borderColor: PRED_COLOR, borderWidth: 1, tension: 0, order: 1 } as any,
          { label: 'Measurements', data: toXY(p.meas), showLine: true, pointRadius: 0,
            borderColor: MEAS_COLOR, borderWidth: 1.2, tension: 0, order: 2 } as any,
        ],
      },
      options: {
        animation: false,
        responsive: false,
        devicePixelRatio: 1,
        events: [],
        layout: { padding: { top: p.padTop, right: 1, left: 0, bottom: 0 } },
        plugins: { legend: { display: false }, tooltip: { enabled: false }, title: { display: false } },
        scales: {
          x: {
            type: 'linear', min: 0, max: p.xMax,
            grid: { display: false, drawTicks: false },
            border: { display: false },
            ticks: {
              autoSkip: false, maxRotation: 0, padding: 6, color: TEXT_COLOR,
              font: { family: FONT, size: 11 },
              callback: (v: any) => labelMap[v as number] ?? '',
            },
            afterBuildTicks: (s: any) => { s.ticks = p.labelDays.map((v) => ({ value: v })); },
            afterFit: (s: any) => { s.height = 24; },
          },
          y: {
            type: 'linear', min: Y_MIN, max: Y_MAX,
            grid: { display: false, drawTicks: false },
            border: { display: false },
            ticks: { padding: 3, color: TEXT_COLOR, font: { family: FONT, size: 11 }, callback: (v: any) => String(v) },
            afterBuildTicks: (s: any) => { s.ticks = Y_TICKS.map((v) => ({ value: v })); },
            afterFit: (s: any) => { s.width = 40; },
            title: { display: true, text: Y_TITLE, color: TEXT_COLOR, font: { family: FONT, size: 12 }, padding: { top: 1.5, bottom: 0 } },
          },
        },
      } as any,
      plugins: [makeDeco(p)],
    });
    return () => chart.destroy();
  }, [p]);
  return (
    <canvas ref={ref} width={p.width} height={p.height}
      style={{ position: 'absolute', left: p.left, top: p.top, width: p.width, height: p.height }} />
  );
}

const LEGEND_ROWS = [
  { label: 'Measurements', kind: 'line', color: '#555' },
  { label: 'Predictions', kind: 'line', color: '#ec6a88' },
  { label: 'Peaks Measurement', kind: 'star', color: '#222' },
  { label: 'Peaks Prediction', kind: 'plus', color: '#222' },
  { label: 'ICME', kind: 'line', color: '#6aa86a' },
];

function LegendSymbol({ kind, color }: { kind: string; color: string }) {
  if (kind === 'line') {
    return <svg width="18" height="14"><line x1="1" y1="7.5" x2="17" y2="7.5" stroke={color} strokeWidth="1" /></svg>;
  }
  if (kind === 'star') {
    return (
      <svg width="18" height="14">
        <g stroke={color} strokeWidth="1">
          <line x1="9" y1="3.5" x2="9" y2="10.5" />
          <line x1="6" y1="5.2" x2="12" y2="8.8" />
          <line x1="6" y1="8.8" x2="12" y2="5.2" />
        </g>
      </svg>
    );
  }
  return (
    <svg width="18" height="14">
      <g stroke={color} strokeWidth="1">
        <line x1="9" y1="3.5" x2="9" y2="10.5" />
        <line x1="5.5" y1="7" x2="12.5" y2="7" />
      </g>
    </svg>
  );
}

function Legend() {
  return (
    <div style={{ position: 'absolute', left: 89, top: 56, width: 187, height: 80, border: '1px solid #555', background: '#fff' }}>
      {LEGEND_ROWS.map((r, i) => (
        <div key={r.label} style={{ position: 'absolute', left: 12, top: 3 + i * 14.5, height: 14, display: 'flex', alignItems: 'center' }}>
          <LegendSymbol kind={r.kind} color={r.color} />
          <span style={{ marginLeft: 11, fontFamily: FONT, fontSize: 12, letterSpacing: '1.2px', color: '#505050', lineHeight: '14px', whiteSpace: 'nowrap' }}>{r.label}</span>
        </div>
      ))}
    </div>
  );
}

export default function App() {
  return (
    <div style={{ position: 'fixed', left: 0, top: 0, width: 819, height: 664, background: '#fff', overflow: 'hidden' }}>
      <Legend />
      {PANELS.map((p) => <PanelChart key={p.title} p={p} />)}
    </div>
  );
}
